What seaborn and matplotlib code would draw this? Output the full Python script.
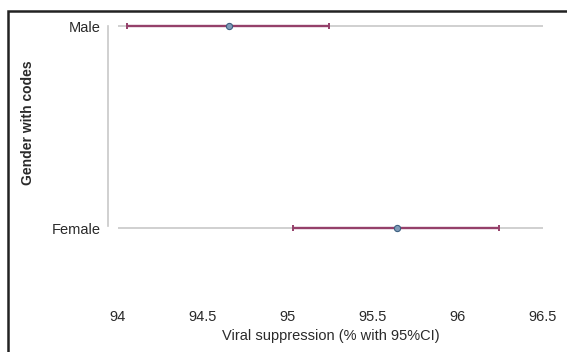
import matplotlib
matplotlib.use("Agg")
import matplotlib.pyplot as plt
import seaborn as sns
import pandas as pd
import numpy as np
from matplotlib.patches import Rectangle

categories = ["Male", "Female"]
estimate = [94.65, 95.64]
ci_low = [94.05, 95.03]
ci_high = [95.24, 96.24]
xticks = [94, 94.5, 95, 95.5, 96, 96.5]
xtick_labels = ["94", "94.5", "95", "95.5", "96", "96.5"]

df = pd.DataFrame({"gender": categories, "est": estimate, "lo": ci_low, "hi": ci_high})

sns.set_theme(style="white")
plt.rcParams["font.family"] = ["Liberation Sans", "DejaVu Sans"]

W, H = 567, 352
fig = plt.figure(figsize=(W / 100, H / 100), dpi=100)
ax = fig.add_axes([118 / W, 1 - 309 / H, (543 - 118) / W, (309 - 16) / H])

ypos = np.arange(len(categories))
err = [df["est"] - df["lo"], df["hi"] - df["est"]]
ax.errorbar(df["est"], ypos, xerr=err, fmt="none", ecolor="#95406a",
            elinewidth=1.7, capsize=2.5, capthick=1.4, zorder=3, clip_on=False)
sns.scatterplot(x=df["est"], y=ypos, ax=ax, s=20, color="#7f9bb8",
                edgecolor="#3d5f80", linewidth=0.8, zorder=4, clip_on=False, legend=False)

ax.set_xlim(94, 96.5)
ax.set_ylim(1.4, -0.05)
ax.set_yticks(ypos)
ax.set_yticklabels(categories)
ax.set_xticks(xticks)
ax.set_xticklabels(xtick_labels)
ax.grid(axis="y", color="#d0d0d0", linewidth=1.4)
ax.grid(axis="x", visible=False)
for s in ["top", "right", "bottom"]:
    ax.spines[s].set_visible(False)
ax.spines["left"].set_position(("outward", 7.2))
ax.spines["left"].set_bounds(0, 0.99)
ax.spines["left"].set_color("#c8c8c8")
ax.spines["left"].set_linewidth(1.2)
ax.tick_params(axis="both", length=0, labelsize=10.5, colors="#2a2a2a")
ax.tick_params(axis="y", pad=5)
ax.tick_params(axis="x", pad=1)
ax.set_xlabel("Viral suppression (% with 95%CI)", fontsize=10.5, color="#2a2a2a", labelpad=3)
ax.set_ylabel("Gender with codes", fontsize=10, fontweight="bold", color="#2a2a2a")
ax.yaxis.set_label_coords(-0.196, 0.635)

fig.patches.append(Rectangle((8 / W, -0.5), 2, 1.5 - 11 / H, transform=fig.transFigure,
                             fill=False, edgecolor="#222222", linewidth=1.8))

fig.savefig("out.png", dpi=100)
